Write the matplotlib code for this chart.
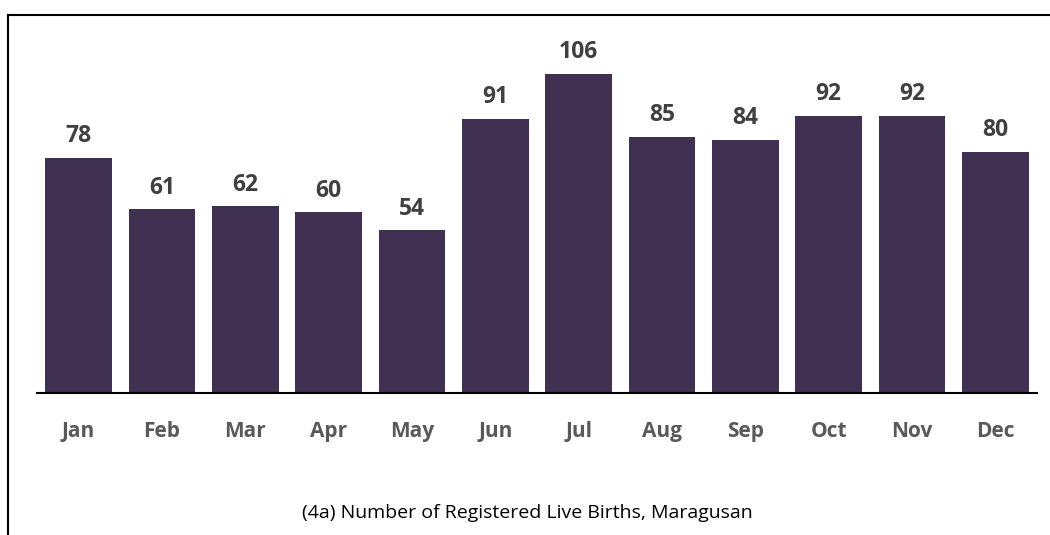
import matplotlib.pyplot as plt
from matplotlib.lines import Line2D

# monthly registered live births
months = ['Jan', 'Feb', 'Mar', 'Apr', 'May', 'Jun', 'Jul', 'Aug', 'Sep', 'Oct', 'Nov', 'Dec']
births = [78, 61, 62, 60, 54, 91, 106, 85, 84, 92, 92, 80]
title = '(4a) Number of Registered Live Births, Maragusan'

plt.rcParams['font.family'] = ['Open Sans', 'DejaVu Sans']

fig = plt.figure(figsize=(10.5, 5.35), dpi=100)
ax = fig.add_axes([37 / 1050, 1 - 393 / 535, 1000 / 1050, (393 - 31.4) / 535])

x = range(len(months))
bars = ax.bar(x, births, width=0.8, color='#403152')
for b, v in zip(bars, births):
    ax.text(b.get_x() + b.get_width() / 2, v + 3.2, str(v), ha='center', va='bottom',
            fontsize=16.5, fontweight='bold', color='#404040')

ax.set_xlim(-0.5, len(months) - 0.5)
ax.set_ylim(0, 120)
ax.set_xticks(list(x))
ax.set_xticklabels(months, fontsize=15, fontweight='bold', color='#595959')
ax.tick_params(axis='x', length=0, pad=20)
ax.set_yticks([])
for s in ['top', 'right', 'left']:
    ax.spines[s].set_visible(False)
ax.spines['bottom'].set_linewidth(1.5)
ax.spines['bottom'].set_color('#000000')

fig.text(527 / 1050, 1 - 513 / 535, title, ha='center', va='center', fontsize=14, color='#000000')

# outer frame (top and left edges visible)
fig.add_artist(Line2D([8 / 1050, 1.0], [1 - 15 / 535, 1 - 15 / 535], color='black', lw=1.5))
fig.add_artist(Line2D([8 / 1050, 8 / 1050], [0, 1 - 15 / 535], color='black', lw=1.5))

fig.savefig('out.png', dpi=100)
